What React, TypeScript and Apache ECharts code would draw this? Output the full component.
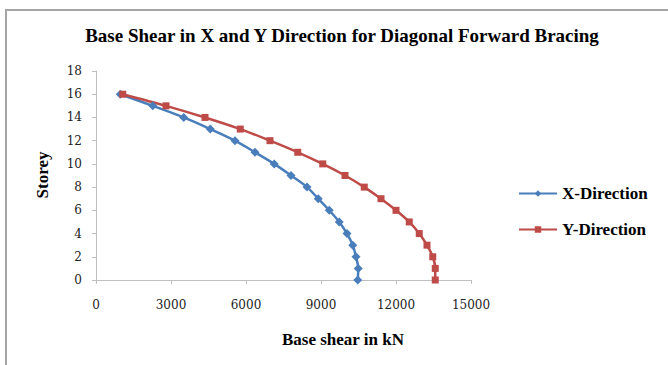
import React, { useEffect, useRef } from "react";
import * as echarts from "echarts";

const storeys = [0, 1, 2, 3, 4, 5, 6, 7, 8, 9, 10, 11, 12, 13, 14, 15, 16];
const xDirection = [10470, 10490, 10400, 10270, 10040, 9730, 9330, 8890, 8440, 7800, 7130, 6360, 5560, 4570, 3510, 2270, 970];
const yDirection = [13570, 13570, 13470, 13240, 12930, 12530, 12000, 11400, 10730, 9960, 9070, 8070, 6960, 5770, 4360, 2800, 1070];

const SERIF = "Liberation Serif";
const TICK_FONT = "DejaVu Serif";

export default function App() {
  const ref = useRef<HTMLDivElement>(null);
  useEffect(() => {
    if (!ref.current) return;
    const chart = echarts.init(ref.current, undefined, { renderer: "svg" });
    chart.setOption({
      animation: false,
      backgroundColor: "#ffffff",
      textStyle: { fontFamily: SERIF },
      title: {
        text: "Base Shear in X and Y Direction for Diagonal Forward Bracing",
        left: 337,
        top: 21,
        textAlign: "center",
        textStyle: { fontFamily: SERIF, fontSize: 19, fontWeight: "bold", color: "#000" },
      },
      graphic: [
        {
          type: "rect",
          shape: { x: 6, y: 10, width: 700, height: 400 },
          style: { fill: "none", stroke: "#a6a6a6", lineWidth: 2 },
          silent: true,
        },
        {
          type: "text",
          x: 343,
          y: 339,
          style: {
            text: "Base shear in kN",
            fontFamily: SERIF,
            fontSize: 17,
            fontWeight: "bold",
            fill: "#000",
            align: "center",
            verticalAlign: "middle",
          },
        },
        {
          type: "text",
          x: 42,
          y: 175,
          rotation: Math.PI / 2,
          style: {
            text: "Storey",
            fontFamily: SERIF,
            fontSize: 17,
            fontWeight: "bold",
            fill: "#000",
            align: "center",
            verticalAlign: "middle",
          },
        },
      ],
      legend: {
        orient: "vertical",
        left: 513,
        top: 180,
        itemGap: 19,
        itemWidth: 38,
        itemHeight: 8,
        textStyle: { fontFamily: SERIF, fontSize: 17, fontWeight: "bold", color: "#000" },
        data: ["X-Direction", "Y-Direction"],
      },
      grid: { left: 96, right: 197, top: 71, bottom: 85 },
      xAxis: {
        type: "value",
        min: 0,
        max: 15000,
        interval: 3000,
        axisLine: { show: true, lineStyle: { color: "#bfbfbf", width: 1 } },
        axisTick: { show: true, length: 4, lineStyle: { color: "#bfbfbf" } },
        splitLine: { show: false },
        axisLabel: {
          fontFamily: TICK_FONT,
          fontSize: 12,
          color: "#222",
          margin: 19,
          formatter: (v: number) => String(v),
        },
      },
      yAxis: {
        type: "value",
        min: 0,
        max: 18,
        interval: 2,
        axisLine: { show: true, lineStyle: { color: "#bfbfbf", width: 1 } },
        axisTick: { show: true, length: 4, lineStyle: { color: "#bfbfbf" } },
        splitLine: { show: false },
        axisLabel: { fontFamily: TICK_FONT, fontSize: 12, color: "#222", margin: 14 },
      },
      series: [
        {
          name: "X-Direction",
          type: "line",
          data: storeys.map((s, i) => [xDirection[i], s]),
          smooth: 0.3,
          symbol: "diamond",
          symbolSize: 9,
          lineStyle: { color: "#4A7EBB", width: 2.5 },
          itemStyle: { color: "#4A7EBB" },
        },
        {
          name: "Y-Direction",
          type: "line",
          data: storeys.map((s, i) => [yDirection[i], s]),
          smooth: 0.3,
          symbol: "rect",
          symbolSize: 7,
          lineStyle: { color: "#BE4B48", width: 2.5 },
          itemStyle: { color: "#BE4B48" },
        },
      ],
    });
    return () => chart.dispose();
  }, []);
  return <div ref={ref} style={{ width: 668, height: 365, position: "absolute", left: 0, top: 0 }} />;
}
